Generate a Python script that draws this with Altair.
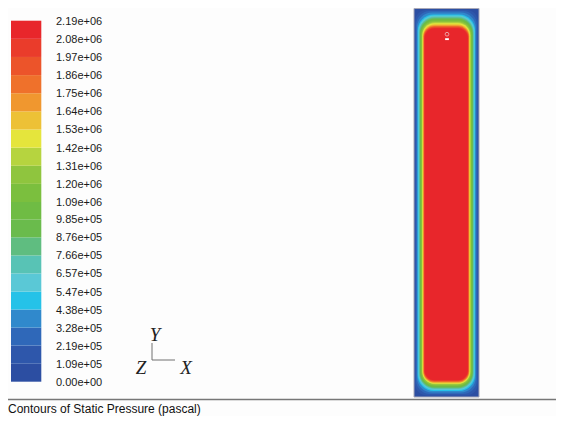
import altair as alt
import pandas as pd

# ---------------- data ----------------
level_labels = ["0.00e+00", "1.09e+05", "2.19e+05", "3.28e+05", "4.38e+05",
                "5.47e+05", "6.57e+05", "7.66e+05", "8.76e+05", "9.85e+05",
                "1.09e+06", "1.20e+06", "1.31e+06", "1.42e+06", "1.53e+06",
                "1.64e+06", "1.75e+06", "1.86e+06", "1.97e+06", "2.08e+06",
                "2.19e+06"]
band_colors = ["#2c4ea2", "#2e57ab", "#2f68b9", "#3089cc", "#25c2e8",
               "#5ac8d6", "#58c3b5", "#5fbd80", "#6abb4c", "#6fbc44",
               "#7bbf3e", "#8fc53e", "#b6d43f", "#e5e53c", "#edc136",
               "#f0972f", "#ef712b", "#ec542a", "#ea3c2b", "#e8262b"]

# contour geometry of the domain (mm): iso-line insets for level k (>= k)
domain_w = 65.0
domain_h = 393.0
inset_left = [0, 1.0, 2.0, 3.0, 3.7, 4.3, 5.0, 5.5, 6.0, 6.5,
              7.0, 7.5, 8.0, 8.5, 9.0, 9.3, 9.6, 10.0, 10.3, 10.6]
inset_right = [0, 1.0, 2.1, 3.2, 3.9, 4.5, 5.2, 5.8, 6.3, 6.8,
               7.3, 7.9, 8.4, 8.9, 9.4, 9.8, 10.1, 10.5, 10.8, 11.1]
inset_top = [0, 1.3, 2.6, 4.0, 6.0, 7.0, 8.0, 9.0, 10.0, 11.0,
             12.0, 13.0, 14.0, 15.0, 16.0, 17.0, 17.7, 18.4, 19.2, 20.0]
inset_bottom = [0, 1.5, 3.0, 4.6, 6.0, 7.0, 8.0, 8.8, 9.6, 10.4,
                11.2, 12.0, 12.8, 13.4, 14.0, 14.7, 15.3, 15.9, 16.5, 17.0]
corner_r = [0, 12, 14, 15, 16, 16, 16, 15, 15, 14,
            14, 13, 13, 12, 12, 11, 11, 10, 10, 10]

# probe markers near the top (mm)
probe_x = [33.0, 33.0]
probe_y = [367.0, 362.0]
probe_shape = ["circle", "square"]

# triad (unit space)
triad_x0 = [0, 0]
triad_y0 = [0, 0]
triad_x1 = [0, 1]
triad_y1 = [1, 0]
triad_lab = ["Y", "Z", "X"]
triad_lx = [0.13, -0.48, 1.48]
triad_ly = [1.5, -0.47, -0.47]

footer = "Contours of Static Pressure (pascal)"

# ---------------- build ----------------
W, H = 548, 408
M = 8  # page margin

levels = list(range(20))
color_scale = alt.Scale(domain=levels, range=band_colors)

vals = [float(s) for s in level_labels]
legend_df = pd.DataFrame({"level": levels, "lo": vals[:-1], "hi": vals[1:]})
lab_df = pd.DataFrame({"label": level_labels, "v": vals})

ly = alt.Scale(domain=[0, vals[-1]], range=[381.7 - M, 20.7 - M])

legend_bar = alt.Chart(legend_df).mark_rect().encode(
    x=alt.value(11 - M), x2=alt.value(41.3 - M),
    y=alt.Y("lo:Q", scale=ly, axis=None), y2="hi:Q",
    color=alt.Color("level:O", scale=color_scale, legend=None),
)
legend_text = alt.Chart(lab_df).mark_text(
    align="left", baseline="middle", font="Liberation Sans", fontSize=11,
    color="#1a1a1a", dy=1,
).encode(
    x=alt.value(56 - M),
    y=alt.Y("v:Q", scale=ly, axis=None),
    text="label:N",
)

cont_df = pd.DataFrame({
    "level": levels,
    "x0": inset_left,
    "x1": [domain_w - r for r in inset_right],
    "y0": inset_bottom,
    "y1": [domain_h - t for t in inset_top],
})
cx = alt.Scale(domain=[0, domain_w], range=[414 - M, 479 - M])
cy = alt.Scale(domain=[0, domain_h], range=[397 - M, 8.5 - M])

cont_layers = []
for k in levels:
    cont_layers.append(
        alt.Chart(cont_df).transform_filter(alt.datum.level == k)
        .mark_rect(cornerRadius=corner_r[k]).encode(
            x=alt.X("x0:Q", scale=cx, axis=None), x2="x1:Q",
            y=alt.Y("y0:Q", scale=cy, axis=None), y2="y1:Q",
            color=alt.Color("level:O", scale=color_scale, legend=None),
        )
    )

outline_df = pd.DataFrame({"x0": [0.0], "x1": [domain_w], "y0": [0.0], "y1": [domain_h]})
outline = alt.Chart(outline_df).mark_rect(fill=None, stroke="#a8a8b8", strokeWidth=1).encode(
    x=alt.X("x0:Q", scale=cx, axis=None), x2="x1:Q",
    y=alt.Y("y0:Q", scale=cy, axis=None), y2="y1:Q",
)

probe_df = pd.DataFrame({"x": probe_x, "y": probe_y, "shape": probe_shape})
probe_c = alt.Chart(probe_df[probe_df["shape"] == "circle"]).mark_point(
    shape="circle", size=14, stroke="#f0d0d0", strokeWidth=1, filled=False).encode(
    x=alt.X("x:Q", scale=cx, axis=None), y=alt.Y("y:Q", scale=cy, axis=None))
probe_s = alt.Chart(probe_df[probe_df["shape"] == "square"]).mark_point(
    shape="M-1,-0.5H1V0.5H-1Z", size=14, fill="white", filled=True, opacity=1).encode(
    x=alt.X("x:Q", scale=cx, axis=None), y=alt.Y("y:Q", scale=cy, axis=None))

tx = alt.Scale(domain=[0, 1], range=[152 - M, 175 - M])
ty = alt.Scale(domain=[0, 1], range=[360 - M, 343 - M])
triad_df = pd.DataFrame({"x0": triad_x0, "y0": triad_y0, "x1": triad_x1, "y1": triad_y1})
triad_lines = alt.Chart(triad_df).mark_rule(color="#707070", strokeWidth=1).encode(
    x=alt.X("x0:Q", scale=tx, axis=None), x2="x1:Q",
    y=alt.Y("y0:Q", scale=ty, axis=None), y2="y1:Q",
)
tl_df = pd.DataFrame({"lab": triad_lab, "x": triad_lx, "y": triad_ly})
triad_text = alt.Chart(tl_df).mark_text(
    font="Liberation Serif", fontStyle="italic", fontSize=19, color="#222222",
    align="center", baseline="middle").encode(
    x=alt.X("x:Q", scale=tx, axis=None), y=alt.Y("y:Q", scale=ty, axis=None),
    text="lab:N")

fy = alt.Scale(domain=[0, 1], range=[399.5 - M, 409 - M])
foot_df = pd.DataFrame({"t": [footer], "k": [0.0]})
foot_line = alt.Chart(foot_df).mark_rule(color="#777777", strokeWidth=1.5).encode(
    x=alt.value(0), x2=alt.value(W),
    y=alt.Y("k:Q", scale=fy, axis=None),
)
foot_df2 = pd.DataFrame({"t": [footer], "k": [1.0]})
foot_text = alt.Chart(foot_df2).mark_text(
    align="left", baseline="middle", font="Liberation Sans", fontSize=12,
    color="#111111").encode(
    x=alt.value(0), y=alt.Y("k:Q", scale=fy, axis=None), text="t:N")

chart = alt.layer(
    legend_bar, legend_text, *cont_layers, outline, probe_c, probe_s,
    triad_lines, triad_text, foot_line, foot_text,
).resolve_scale(
    x="independent", y="independent"
).properties(
    width=W, height=H, padding=0,
    autosize=alt.AutoSizeParams(type="none"),
    background="#fdfdfd",
).configure_view(strokeWidth=0)

chart.save("out.html", embed_options={"renderer": "svg", "actions": False})
